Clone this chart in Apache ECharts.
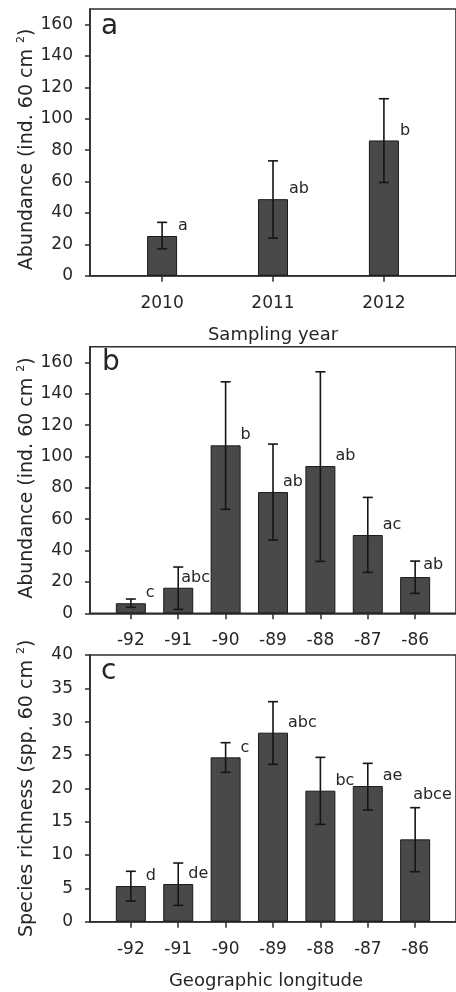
<!DOCTYPE html>
<html><head><meta charset="utf-8">
<script src="https://cdn.jsdelivr.net/npm/echarts@6/dist/echarts.min.js"></script>
<style>html,body{margin:0;padding:0;background:#fff}#c{width:456px;height:992px}</style>
</head><body><div id="c"></div>
<script>
// ---- data ----
const years = [2010, 2011, 2012];
const abundYearMean = [25.3, 48.8, 86.2];
const abundYearHigh = [34.0, 73.2, 112.8];
const abundYearLow = [17.2, 23.9, 59.4];
const abundYearLetters = ['a', 'ab', 'b'];

const longitudes = [-92, -91, -90, -89, -88, -87, -86];
const abundLonMean = [6.4, 16.3, 107.1, 77.3, 93.9, 49.9, 23.1];
const abundLonHigh = [9.1, 29.5, 147.6, 107.9, 154.0, 73.9, 33.3];
const abundLonLow = [3.8, 2.5, 66.3, 46.7, 33.1, 26.1, 12.7];
const abundLonLetters = ['c', 'abc', 'b', 'ab', 'ab', 'ac', 'ab'];

const richLonMean = [5.35, 5.65, 24.65, 28.35, 19.65, 20.35, 12.35];
const richLonHigh = [7.56, 8.8, 26.85, 33.0, 24.65, 23.75, 17.1];
const richLonLow = [3.1, 2.45, 22.4, 23.6, 14.6, 16.75, 7.5];
const richLonLetters = ['d', 'de', 'c', 'abc', 'bc', 'ae', 'abce'];

const abundTicks = [0, 20, 40, 60, 80, 100, 120, 140, 160];
const richTicks = [0, 5, 10, 15, 20, 25, 30, 35, 40];

// ---- styling / layout (not data) ----
const FONT = '"DejaVu Sans", sans-serif';
const TXT = '#262626';
const LINE = '#2e2e2e';
const BAR_W = 30;
// per-letter pixel nudges [dx, dy] relative to default spot (right of bar, above bar top)
const nudgeA = [[1,0],[1,0],[1,0]];
const nudgeB = [[0,0],[-12,0],[0,0],[-5,0],[0,0],[0,0],[-7,-2]];
const nudgeC = [[0,0],[-5,0],[0,0],[0,0],[0,0],[0,0],[-17,-35]];

const chart = echarts.init(document.getElementById('c'), null, {renderer: 'canvas'});

const grids = [
  {left: 90, top: 9, width: 370, height: 266.7},
  {left: 90, top: 346.7, width: 370, height: 266.6},
  {left: 90, top: 655, width: 370, height: 266.7}
].map(g => Object.assign(g, {show: true, borderColor: LINE, borderWidth: 1.6, backgroundColor: 'transparent'}));

function xAxisCfg(idx, cats, min, max, name, namePad) {
  return {
    type: 'value', gridIndex: idx, min: min, max: max,
    splitLine: {show: false},
    axisLine: {show: true, lineStyle: {color: LINE, width: 1.6}},
    axisTick: {show: true, customValues: cats, length: 6, lineStyle: {color: LINE, width: 1.5}},
    axisLabel: {customValues: cats, margin: 19, fontSize: 17, fontFamily: FONT, color: TXT,
      formatter: v => String(v)},
    name: name, nameLocation: 'middle', nameGap: 51, nameMoveOverlap: false,
    nameTextStyle: {fontSize: 18, fontFamily: FONT, color: TXT, padding: namePad}
  };
}
function yAxisCfg(idx, ticks, max, name, namePad) {
  return {
    type: 'value', gridIndex: idx, min: 0, max: max,
    splitLine: {show: false},
    axisLine: {show: true, lineStyle: {color: LINE, width: 1.6}},
    axisTick: {show: true, customValues: ticks, length: 5, lineStyle: {color: LINE, width: 1.5}},
    axisLabel: {customValues: ticks, margin: 17, fontSize: 17, fontFamily: FONT, color: TXT},
    name: name, nameLocation: 'middle', nameGap: 52, nameRotate: 90, nameMoveOverlap: false,
    nameTextStyle: {
      fontSize: 19, fontFamily: FONT, color: TXT, lineHeight: 22, padding: namePad,
      rich: {s: {fontSize: 11, fontFamily: FONT, color: TXT, verticalAlign: 'top', lineHeight: 11}}
    }
  };
}

function barSeries(idx, xs, means) {
  return {
    type: 'bar', xAxisIndex: idx, yAxisIndex: idx, barWidth: BAR_W,
    data: xs.map((x, i) => [x, means[i]]),
    itemStyle: {color: '#494949', borderColor: '#1a1a1a', borderWidth: 1},
    z: 2, animation: false
  };
}
function errSeries(idx, xs, lows, highs) {
  return {
    type: 'custom', xAxisIndex: idx, yAxisIndex: idx, z: 5, animation: false,
    data: xs.map((x, i) => [x, lows[i], highs[i]]),
    renderItem: function (params, api) {
      const x = api.value(0);
      const lo = api.coord([x, api.value(1)]);
      const hi = api.coord([x, api.value(2)]);
      const cw = 5;
      const st = {stroke: '#151515', lineWidth: 1.6};
      return {type: 'group', children: [
        {type: 'line', shape: {x1: hi[0], y1: hi[1], x2: lo[0], y2: lo[1]}, style: st},
        {type: 'line', shape: {x1: hi[0] - cw, y1: hi[1], x2: hi[0] + cw, y2: hi[1]}, style: st},
        {type: 'line', shape: {x1: lo[0] - cw, y1: lo[1], x2: lo[0] + cw, y2: lo[1]}, style: st}
      ]};
    }
  };
}
function letterSeries(idx, xs, means, letters, nudges) {
  return {
    type: 'custom', xAxisIndex: idx, yAxisIndex: idx, z: 6, animation: false,
    data: xs.map((x, i) => [x, means[i], i]),
    renderItem: function (params, api) {
      const i = api.value(2);
      const p = api.coord([api.value(0), api.value(1)]);
      const n = nudges[i];
      return {type: 'text', x: p[0] + BAR_W / 2 + n[0], y: p[1] - 10 + n[1],
        style: {text: letters[i], fill: TXT, font: '16px ' + FONT, align: 'left', verticalAlign: 'middle'}};
    }
  };
}

const option = {
  animation: false,
  backgroundColor: '#fff',
  grid: grids,
  xAxis: [
    xAxisCfg(0, years, 2009.35, 2012.65, 'Sampling year', [0, 0, 0, 0]),
    xAxisCfg(1, longitudes, -92.862, -85.138, '', [0, 0, 0, 0]),
    xAxisCfg(2, longitudes, -92.862, -85.138, 'Geographic longitude', [0, 14, 0, 0])
  ],
  yAxis: [
    yAxisCfg(0, abundTicks, 170, 'Abundance (ind. 60 cm {s|2})', [0, 14, 0, 0]),
    yAxisCfg(1, abundTicks, 170, 'Abundance (ind. 60 cm {s|2})', [0, 0, 0, 4]),
    yAxisCfg(2, richTicks, 40, 'Species richness (spp. 60 cm {s|2})', [0, 0, 0, 0])
  ],
  series: [
    barSeries(0, years, abundYearMean),
    errSeries(0, years, abundYearLow, abundYearHigh),
    letterSeries(0, years, abundYearMean, abundYearLetters, nudgeA),
    barSeries(1, longitudes, abundLonMean),
    errSeries(1, longitudes, abundLonLow, abundLonHigh),
    letterSeries(1, longitudes, abundLonMean, abundLonLetters, nudgeB),
    barSeries(2, longitudes, richLonMean),
    errSeries(2, longitudes, richLonLow, richLonHigh),
    letterSeries(2, longitudes, richLonMean, richLonLetters, nudgeC)
  ],
  graphic: [
    {type: 'text', left: 101, top: 13, style: {text: 'a', font: '28px ' + FONT, fill: TXT}},
    {type: 'text', left: 102, top: 349, style: {text: 'b', font: '28px ' + FONT, fill: TXT}},
    {type: 'text', left: 101, top: 658, style: {text: 'c', font: '28px ' + FONT, fill: TXT}}
  ]
};
chart.setOption(option);
</script>
</body></html>
